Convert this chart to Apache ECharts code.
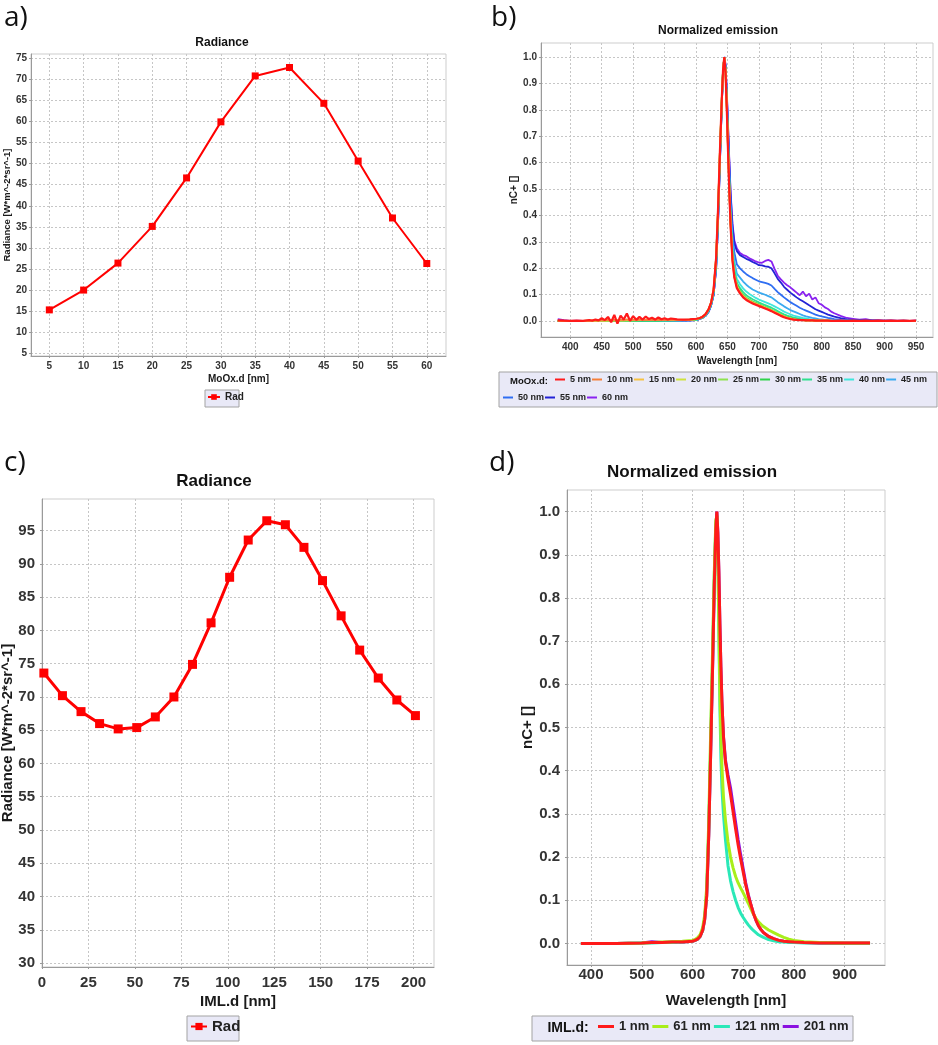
<!DOCTYPE html>
<html>
<head>
<meta charset="utf-8">
<script src="https://cdn.jsdelivr.net/npm/echarts@6.0.0/dist/echarts.min.js"></script>
<style>
  html, body { margin: 0; padding: 0; background: #ffffff; }
  #chart { width: 938px; height: 1045px; }
</style>
</head>
<body>
<div id="chart"></div>
<script>
// ---------- a) Radiance vs MoOx thickness ----------
const aThick = [5, 10, 15, 20, 25, 30, 35, 40, 45, 50, 55, 60];
const aRad = [15.3, 20.0, 26.4, 35.1, 46.6, 59.9, 70.8, 72.8, 64.3, 50.6, 37.1, 26.3];
const aXTicks = [5, 10, 15, 20, 25, 30, 35, 40, 45, 50, 55, 60];
const aYTicks = [5, 10, 15, 20, 25, 30, 35, 40, 45, 50, 55, 60, 65, 70, 75];

// ---------- c) Radiance vs IML thickness ----------
const cThick = [1, 11, 21, 31, 41, 51, 61, 71, 81, 91, 101, 111, 121, 131, 141, 151, 161, 171, 181, 191, 201];
const cRad = [73.6, 70.2, 67.8, 66.0, 65.2, 65.4, 67.0, 70.0, 74.9, 81.15, 88.0, 93.6, 96.5, 95.9, 92.5, 87.5, 82.2, 77.05, 72.85, 69.55, 67.2];
const cXTicks = [0, 25, 50, 75, 100, 125, 150, 175, 200];
const cYTicks = [30, 35, 40, 45, 50, 55, 60, 65, 70, 75, 80, 85, 90, 95];

// ---------- b) Normalized emission, MoOx.d series ----------
const wlB = [380, 390, 400, 410, 420, 430,
  435, 440, 445, 450, 455, 460, 465, 470, 475, 480, 485, 490, 495, 500, 505, 510, 515, 520, 525, 530, 535, 540, 545, 550, 555, 560,
  570, 580, 590, 600,
  605, 610, 615, 620, 624, 628, 632, 635, 638, 641, 643, 645, 647, 649, 651, 653, 655, 658, 661, 665,
  670, 675, 680, 685, 690, 695, 700, 705, 710, 715, 720, 725, 730, 735, 740, 745, 750, 755, 760, 765, 770, 775, 780, 785, 790, 795, 800, 805, 810, 815, 820,
  830, 840, 850, 860, 870, 880, 890, 900, 910, 920, 930, 940, 950];

const mo05 = [0.003, 0.002, 0.001, 0.002, 0.001, 0.004,
  0.002, 0.006, 0.003, 0.011, 0.004, 0.016, -0.004, 0.024, -0.009, 0.021, 0.006, 0.029, 0.001, 0.019, 0.005, 0.016, 0.006, 0.017, 0.008, 0.013, 0.006, 0.014, 0.007, 0.011, 0.006, 0.010,
  0.007, 0.006, 0.007, 0.009,
  0.011, 0.016, 0.026, 0.045, 0.07, 0.12, 0.24, 0.42, 0.64, 0.84, 0.95, 1.0, 0.94, 0.80, 0.64, 0.49, 0.36, 0.23, 0.165, 0.125,
  0.105, 0.090, 0.080, 0.073, 0.067, 0.062, 0.057, 0.053, 0.048, 0.043, 0.038, 0.032, 0.026, 0.020, 0.015, 0.011, 0.008, 0.006, 0.005, 0.004, 0.004, 0.003, 0.003, 0.003, 0.002, 0.002, 0.002, 0.002, 0.002, 0.001, 0.001,
  0.002, 0.001, 0.002, 0.001, 0.002, 0.001, 0.002, 0.001, 0.002, 0.001, 0.002, 0.001, 0.002];
const mo10 = [0.002, 0.001, 0.001, 0.001, 0.001, 0.002,
  0.002, 0.003, 0.002, 0.004, 0.003, 0.005, 0.002, 0.006, 0.003, 0.006, 0.004, 0.007, 0.003, 0.006, 0.004, 0.006, 0.004, 0.005, 0.004, 0.005, 0.004, 0.005, 0.004, 0.005, 0.004, 0.005,
  0.005, 0.005, 0.006, 0.008,
  0.011, 0.016, 0.026, 0.045, 0.07, 0.12, 0.24, 0.42, 0.64, 0.84, 0.95, 1.0, 0.94, 0.80, 0.64, 0.49, 0.36, 0.23, 0.167, 0.127,
  0.107, 0.092, 0.082, 0.075, 0.069, 0.064, 0.059, 0.054, 0.049, 0.044, 0.039, 0.033, 0.027, 0.021, 0.016, 0.012, 0.009, 0.007, 0.005, 0.004, 0.004, 0.003, 0.003, 0.003, 0.002, 0.002, 0.002, 0.002, 0.002, 0.001, 0.001,
  0.001, 0.001, 0.001, 0.001, 0.001, 0.001, 0.001, 0.001, 0.001, 0.001, 0.001, 0.001, 0.001];
const mo15 = [0.001, 0.001, 0.001, 0.001, 0.001, 0.002,
  0.002, 0.002, 0.003, 0.003, 0.003, 0.004, 0.003, 0.004, 0.003, 0.004, 0.003, 0.005, 0.004, 0.005, 0.004, 0.005, 0.004, 0.005, 0.004, 0.005, 0.004, 0.005, 0.004, 0.005, 0.004, 0.005,
  0.005, 0.005, 0.006, 0.008,
  0.011, 0.016, 0.026, 0.045, 0.07, 0.12, 0.24, 0.42, 0.64, 0.84, 0.95, 1.0, 0.94, 0.80, 0.64, 0.49, 0.37, 0.235, 0.17, 0.13,
  0.108, 0.093, 0.083, 0.076, 0.070, 0.065, 0.060, 0.055, 0.050, 0.045, 0.040, 0.034, 0.028, 0.022, 0.017, 0.013, 0.010, 0.007, 0.005, 0.004, 0.004, 0.003, 0.003, 0.003, 0.002, 0.002, 0.002, 0.002, 0.002, 0.001, 0.001,
  0.001, 0.001, 0.001, 0.001, 0.001, 0.001, 0.001, 0.001, 0.001, 0.001, 0.001, 0.001, 0.001];
const mo20 = [0.001, 0.001, 0.001, 0.001, 0.001, 0.001,
  0.002, 0.002, 0.002, 0.003, 0.002, 0.003, 0.003, 0.003, 0.003, 0.004, 0.003, 0.004, 0.003, 0.004, 0.004, 0.004, 0.004, 0.005, 0.004, 0.005, 0.004, 0.005, 0.004, 0.005, 0.004, 0.005,
  0.005, 0.005, 0.006, 0.008,
  0.011, 0.016, 0.026, 0.045, 0.07, 0.12, 0.24, 0.42, 0.64, 0.84, 0.95, 1.0, 0.94, 0.81, 0.65, 0.50, 0.37, 0.24, 0.172, 0.132,
  0.110, 0.095, 0.085, 0.077, 0.071, 0.066, 0.061, 0.056, 0.051, 0.046, 0.041, 0.035, 0.029, 0.023, 0.018, 0.013, 0.010, 0.008, 0.006, 0.005, 0.004, 0.003, 0.003, 0.003, 0.002, 0.002, 0.002, 0.002, 0.002, 0.001, 0.001,
  0.001, 0.001, 0.001, 0.001, 0.001, 0.001, 0.001, 0.001, 0.001, 0.001, 0.001, 0.001, 0.001];
const mo25 = [0.001, 0.001, 0.001, 0.001, 0.001, 0.001,
  0.001, 0.002, 0.002, 0.002, 0.002, 0.003, 0.002, 0.003, 0.003, 0.003, 0.003, 0.004, 0.003, 0.004, 0.003, 0.004, 0.004, 0.004, 0.004, 0.004, 0.004, 0.005, 0.004, 0.005, 0.004, 0.005,
  0.005, 0.005, 0.006, 0.007,
  0.010, 0.015, 0.025, 0.044, 0.07, 0.12, 0.24, 0.42, 0.64, 0.84, 0.95, 1.0, 0.95, 0.81, 0.65, 0.50, 0.375, 0.245, 0.175, 0.135,
  0.112, 0.097, 0.087, 0.079, 0.072, 0.067, 0.062, 0.057, 0.052, 0.047, 0.042, 0.036, 0.030, 0.024, 0.018, 0.014, 0.011, 0.008, 0.006, 0.005, 0.004, 0.003, 0.003, 0.003, 0.002, 0.002, 0.002, 0.002, 0.002, 0.001, 0.001,
  0.001, 0.001, 0.001, 0.001, 0.001, 0.001, 0.001, 0.001, 0.001, 0.001, 0.001, 0.001, 0.001];
const mo30 = [0.001, 0.001, 0.001, 0.001, 0.001, 0.001,
  0.001, 0.001, 0.002, 0.002, 0.002, 0.002, 0.002, 0.002, 0.002, 0.003, 0.002, 0.003, 0.002, 0.003, 0.002, 0.003, 0.002, 0.002, 0.003, 0.002, 0.003, 0.002, 0.003, 0.003, 0.003, 0.003,
  0.004, 0.004, 0.005, 0.007,
  0.010, 0.015, 0.024, 0.043, 0.068, 0.115, 0.23, 0.41, 0.63, 0.84, 0.95, 1.0, 0.95, 0.81, 0.66, 0.51, 0.38, 0.25, 0.18, 0.138,
  0.115, 0.099, 0.089, 0.081, 0.074, 0.069, 0.064, 0.059, 0.054, 0.049, 0.043, 0.037, 0.031, 0.025, 0.019, 0.015, 0.011, 0.008, 0.006, 0.005, 0.004, 0.003, 0.003, 0.003, 0.002, 0.002, 0.002, 0.002, 0.002, 0.001, 0.001,
  0.001, 0.001, 0.001, 0.001, 0.001, 0.001, 0.001, 0.001, 0.001, 0.001, 0.001, 0.001, 0.001];
const mo35 = [0.001, 0.001, 0.001, 0.001, 0.001, 0.001,
  0.001, 0.001, 0.001, 0.002, 0.001, 0.002, 0.001, 0.002, 0.001, 0.002, 0.002, 0.002, 0.002, 0.002, 0.002, 0.002, 0.002, 0.002, 0.002, 0.003, 0.002, 0.003, 0.002, 0.003, 0.003, 0.003,
  0.003, 0.004, 0.004, 0.006,
  0.009, 0.013, 0.022, 0.040, 0.065, 0.11, 0.22, 0.40, 0.62, 0.83, 0.95, 1.0, 0.95, 0.82, 0.67, 0.52, 0.39, 0.26, 0.19, 0.145,
  0.125, 0.110, 0.098, 0.090, 0.083, 0.077, 0.071, 0.066, 0.061, 0.056, 0.051, 0.045, 0.038, 0.032, 0.026, 0.021, 0.017, 0.013, 0.011, 0.009, 0.007, 0.006, 0.005, 0.004, 0.003, 0.003, 0.002, 0.002, 0.002, 0.001, 0.001,
  0.001, 0.001, 0.001, 0.001, 0.001, 0.001, 0.001, 0.001, 0.001, 0.001, 0.001, 0.001, 0.001];
const mo40 = [0.001, 0.001, 0.001, 0.001, 0.001, 0.001,
  0.001, 0.001, 0.001, 0.001, 0.001, 0.001, 0.001, 0.001, 0.001, 0.002, 0.001, 0.002, 0.001, 0.002, 0.002, 0.002, 0.002, 0.002, 0.002, 0.002, 0.002, 0.002, 0.002, 0.002, 0.002, 0.003,
  0.003, 0.003, 0.004, 0.005,
  0.009, 0.013, 0.022, 0.040, 0.065, 0.11, 0.22, 0.40, 0.62, 0.83, 0.95, 1.0, 0.95, 0.83, 0.68, 0.53, 0.40, 0.275, 0.205, 0.16,
  0.140, 0.124, 0.112, 0.103, 0.095, 0.088, 0.082, 0.077, 0.072, 0.067, 0.062, 0.056, 0.050, 0.043, 0.036, 0.031, 0.026, 0.021, 0.018, 0.015, 0.012, 0.010, 0.008, 0.006, 0.005, 0.004, 0.003, 0.003, 0.002, 0.002, 0.001,
  0.001, 0.001, 0.001, 0.001, 0.001, 0.001, 0.001, 0.001, 0.001, 0.001, 0.001, 0.001, 0.001];
const mo45 = [0.001, 0.001, 0.001, 0.001, 0.001, 0.001,
  0.001, 0.001, 0.001, 0.001, 0.001, 0.001, 0.001, 0.001, 0.001, 0.001, 0.001, 0.001, 0.001, 0.001, 0.001, 0.001, 0.001, 0.002, 0.001, 0.002, 0.001, 0.002, 0.002, 0.002, 0.002, 0.002,
  0.002, 0.003, 0.003, 0.005,
  0.009, 0.013, 0.021, 0.039, 0.063, 0.105, 0.21, 0.39, 0.61, 0.83, 0.95, 1.0, 0.96, 0.84, 0.69, 0.55, 0.42, 0.30, 0.225, 0.18,
  0.165, 0.150, 0.138, 0.128, 0.120, 0.114, 0.108, 0.104, 0.100, 0.095, 0.090, 0.081, 0.072, 0.064, 0.056, 0.049, 0.042, 0.037, 0.032, 0.027, 0.022, 0.018, 0.015, 0.012, 0.010, 0.008, 0.007, 0.005, 0.004, 0.003, 0.003,
  0.002, 0.002, 0.001, 0.001, 0.001, 0.001, 0.001, 0.001, 0.001, 0.001, 0.001, 0.001, 0.001];
const mo50 = [0.001, 0.001, 0.001, 0.001, 0.001, 0.001,
  0.001, 0.001, 0.001, 0.001, 0.001, 0.001, 0.001, 0.001, 0.001, 0.001, 0.001, 0.001, 0.001, 0.001, 0.001, 0.001, 0.001, 0.001, 0.001, 0.001, 0.001, 0.001, 0.001, 0.001, 0.001, 0.002,
  0.002, 0.002, 0.003, 0.004,
  0.008, 0.012, 0.020, 0.036, 0.060, 0.10, 0.20, 0.37, 0.60, 0.82, 0.94, 1.0, 0.96, 0.85, 0.71, 0.57, 0.45, 0.33, 0.26, 0.215,
  0.200, 0.188, 0.178, 0.170, 0.163, 0.157, 0.151, 0.148, 0.145, 0.141, 0.135, 0.122, 0.110, 0.100, 0.090, 0.081, 0.072, 0.065, 0.058, 0.051, 0.045, 0.040, 0.035, 0.030, 0.025, 0.021, 0.018, 0.015, 0.012, 0.010, 0.008,
  0.005, 0.004, 0.003, 0.002, 0.002, 0.002, 0.001, 0.001, 0.001, 0.001, 0.001, 0.001, 0.001];
const mo55 = [0.001, 0.001, 0.001, 0.001, 0.001, 0.001,
  0.001, 0.001, 0.001, 0.001, 0.001, 0.001, 0.001, 0.001, 0.001, 0.001, 0.001, 0.001, 0.001, 0.001, 0.001, 0.001, 0.001, 0.001, 0.001, 0.001, 0.001, 0.001, 0.001, 0.001, 0.001, 0.002,
  0.002, 0.002, 0.003, 0.004,
  0.008, 0.012, 0.020, 0.036, 0.060, 0.10, 0.20, 0.37, 0.60, 0.82, 0.94, 1.0, 0.97, 0.86, 0.73, 0.60, 0.48, 0.36, 0.295, 0.265,
  0.250, 0.243, 0.236, 0.231, 0.224, 0.219, 0.212, 0.211, 0.207, 0.206, 0.200, 0.181, 0.160, 0.146, 0.130, 0.119, 0.108, 0.099, 0.090, 0.082, 0.075, 0.068, 0.060, 0.053, 0.045, 0.040, 0.035, 0.030, 0.025, 0.021, 0.017,
  0.011, 0.007, 0.005, 0.004, 0.003, 0.003, 0.002, 0.002, 0.002, 0.001, 0.002, 0.001, 0.001];
const mo60 = [0.008, 0.004, 0.001, 0.002, 0.001, 0.001,
  0.001, 0.001, 0.001, 0.001, 0.001, 0.001, 0.001, 0.001, 0.001, 0.001, 0.001, 0.001, 0.001, 0.001, 0.001, 0.001, 0.001, 0.001, 0.001, 0.001, 0.001, 0.001, 0.001, 0.001, 0.001, 0.002,
  0.002, 0.002, 0.003, 0.004,
  0.008, 0.012, 0.020, 0.036, 0.060, 0.10, 0.20, 0.37, 0.60, 0.82, 0.94, 1.0, 0.97, 0.87, 0.74, 0.61, 0.49, 0.37, 0.305, 0.275,
  0.258, 0.250, 0.246, 0.238, 0.232, 0.226, 0.222, 0.221, 0.228, 0.232, 0.226, 0.198, 0.172, 0.158, 0.146, 0.136, 0.128, 0.118, 0.108, 0.098, 0.112, 0.094, 0.104, 0.082, 0.090, 0.068, 0.062, 0.052, 0.046, 0.036, 0.030,
  0.020, 0.012, 0.009, 0.006, 0.008, 0.003, 0.004, 0.002, 0.003, 0.002, 0.002, 0.001, 0.003];

const bNames = ['5 nm', '10 nm', '15 nm', '20 nm', '25 nm', '30 nm', '35 nm', '40 nm', '45 nm', '50 nm', '55 nm', '60 nm'];
const bValues = [mo05, mo10, mo15, mo20, mo25, mo30, mo35, mo40, mo45, mo50, mo55, mo60];
const bXTicks = [400, 450, 500, 550, 600, 650, 700, 750, 800, 850, 900, 950];
const bYTicks = [0, 0.1, 0.2, 0.3, 0.4, 0.5, 0.6, 0.7, 0.8, 0.9, 1.0];

// ---------- d) Normalized emission, IML.d series ----------
const wlD = [380, 400, 450, 500, 520, 540, 560, 580, 600,
  605, 610, 615, 620, 624, 628, 632, 636, 640, 643, 646, 648, 650, 652, 654, 656, 658, 661, 665,
  670, 675, 680, 685, 690, 695, 700, 705, 710, 715, 720, 725, 730, 735, 740,
  750, 760, 770, 780, 790, 800, 820, 850, 900, 950];
const iml001 = [0, 0, 0, 0.001, 0.002, 0.002, 0.003, 0.003, 0.005,
  0.007, 0.010, 0.016, 0.030, 0.055, 0.11, 0.25, 0.45, 0.66, 0.83, 0.96, 1.0, 0.95, 0.86, 0.74, 0.64, 0.56, 0.48, 0.42,
  0.380, 0.345, 0.305, 0.265, 0.228, 0.195, 0.165, 0.135, 0.110, 0.090, 0.070, 0.054, 0.041, 0.032, 0.025,
  0.016, 0.011, 0.007, 0.005, 0.004, 0.003, 0.002, 0.001, 0.001, 0.001];
const iml061 = [0, 0, 0, 0.001, 0.002, 0.003, 0.004, 0.005, 0.007,
  0.009, 0.013, 0.020, 0.036, 0.065, 0.13, 0.28, 0.50, 0.70, 0.86, 0.98, 0.99, 0.90, 0.74, 0.58, 0.48, 0.41, 0.34, 0.285,
  0.235, 0.200, 0.175, 0.155, 0.140, 0.128, 0.117, 0.105, 0.093, 0.080, 0.068, 0.058, 0.050, 0.044, 0.039,
  0.031, 0.025, 0.019, 0.014, 0.010, 0.007, 0.004, 0.002, 0.001, 0.001];
const iml121 = [0, 0, 0, 0.001, 0.001, 0.002, 0.002, 0.003, 0.005,
  0.007, 0.010, 0.016, 0.030, 0.058, 0.12, 0.26, 0.47, 0.68, 0.85, 0.97, 0.99, 0.90, 0.72, 0.55, 0.43, 0.36, 0.30, 0.24,
  0.180, 0.145, 0.120, 0.100, 0.083, 0.070, 0.060, 0.051, 0.043, 0.036, 0.030, 0.025, 0.020, 0.017, 0.014,
  0.009, 0.006, 0.004, 0.003, 0.002, 0.002, 0.001, 0.001, 0, 0];
const iml201 = [0, 0, 0, 0.001, 0.004, 0.002, 0.003, 0.003, 0.005,
  0.007, 0.010, 0.016, 0.030, 0.055, 0.11, 0.25, 0.45, 0.66, 0.83, 0.96, 1.0, 0.95, 0.86, 0.74, 0.64, 0.56, 0.48, 0.425,
  0.390, 0.360, 0.320, 0.280, 0.240, 0.205, 0.172, 0.140, 0.113, 0.090, 0.070, 0.054, 0.041, 0.032, 0.025,
  0.016, 0.011, 0.007, 0.005, 0.004, 0.003, 0.002, 0.001, 0.001, 0.001];

const dNames = ['1 nm', '61 nm', '121 nm', '201 nm'];
const dValues = [iml001, iml061, iml121, iml201];
const dXTicks = [400, 500, 600, 700, 800, 900];
const dYTicks = [0, 0.1, 0.2, 0.3, 0.4, 0.5, 0.6, 0.7, 0.8, 0.9, 1.0];

// ---------- styling ----------
const FONT = '"Liberation Sans", Arial, Helvetica, sans-serif';
const bColors = ['#ff1a1a', '#f5803a', '#f7c242', '#cfe23e', '#8ee34f', '#2fd34a', '#2fe08f', '#3fe6dc', '#3aaaf0', '#2f6ef2', '#2323d6', '#8a22f0'];
const dColors = ['#ff1a1a', '#a8ee1a', '#2ae8b8', '#8a10e0'];

function pairs(xs, ys) { return xs.map((x, i) => [x, ys[i]]); }

function axisOf(grid, min, max, ticks, o) {
  return {
    type: 'value', gridIndex: grid, min: min, max: max,
    name: o.name, nameLocation: 'middle', nameGap: o.nameGap, nameMoveOverlap: false,
    nameTextStyle: { fontFamily: FONT, fontWeight: 'bold', fontSize: o.nameSize, color: '#1a1a1a' },
    axisLine: { show: true, onZero: false, lineStyle: { color: '#9a9a9a', width: 1 } },
    axisTick: { show: true, customValues: ticks, length: 2, lineStyle: { color: '#9a9a9a' } },
    axisLabel: {
      customValues: ticks, fontFamily: FONT, fontWeight: 'bold', fontSize: o.labelSize,
      color: '#333333', margin: o.margin, formatter: o.fmt
    },
    splitLine: { show: true, lineStyle: { color: '#c6c6c6', width: 1, type: [2, 2] } }
  };
}
const fmt1 = v => v.toFixed(1);
const fmt0 = v => String(Math.round(v));

function gridOf(left, top, width, height) {
  return { left, top, width, height, show: true, backgroundColor: '#ffffff',
           borderColor: '#cdcdcd', borderWidth: 1, containLabel: false, outerBoundsMode: 'none' };
}

function textEl(x, y, text, font, align) {
  return { type: 'text', x: x, y: y, z: 10, silent: true,
           style: { text: text, font: font, fill: '#111111', textAlign: align || 'center', textVerticalAlign: 'middle' } };
}
function boxEl(x, y, w, h) {
  return { type: 'rect', z: 0, silent: true, shape: { x: x, y: y, width: w, height: h },
           style: { fill: '#e9e9f7', stroke: '#a3a3a3', lineWidth: 1 } };
}

const series = [];
// a
series.push({ type: 'line', name: 'Rad', xAxisIndex: 0, yAxisIndex: 0, data: pairs(aThick, aRad),
  symbol: 'rect', symbolSize: 7, color: '#ff0000', lineStyle: { width: 2, color: '#ff0000' },
  itemStyle: { color: '#ff0000' }, z: 3 });
// b — drawn in reverse so the first series sits on top
for (let i = bNames.length - 1; i >= 0; i--) {
  series.push({ type: 'line', name: bNames[i], xAxisIndex: 1, yAxisIndex: 1, data: pairs(wlB, bValues[i]),
    symbol: 'none', showSymbol: false, color: bColors[i],
    lineStyle: { width: i === 0 ? 2.2 : 1.8, color: bColors[i] } });
}
// c
series.push({ type: 'line', name: 'Rad IML', xAxisIndex: 2, yAxisIndex: 2, data: pairs(cThick, cRad),
  symbol: 'rect', symbolSize: 9, color: '#ff0000', lineStyle: { width: 3, color: '#ff0000' },
  itemStyle: { color: '#ff0000' }, z: 3 });
// d
for (let i = dNames.length - 1; i >= 0; i--) {
  series.push({ type: 'line', name: dNames[i], xAxisIndex: 3, yAxisIndex: 3, data: pairs(wlD, dValues[i]),
    symbol: 'none', showSymbol: false, color: dColors[i], lineStyle: { width: 3, color: dColors[i] } });
}

const legendText = size => ({ fontFamily: FONT, fontWeight: 'bold', fontSize: size, color: '#222222' });

const option = {
  animation: false,
  backgroundColor: '#ffffff',
  grid: [
    gridOf(31, 54, 415, 302),
    gridOf(541, 43, 392, 294),
    gridOf(42, 499, 392, 468),
    gridOf(567, 490, 318, 475)
  ],
  xAxis: [
    axisOf(0, 2.33, 62.8, aXTicks, { name: 'MoOx.d [nm]', nameGap: 18, nameSize: 10, labelSize: 10, margin: 5, fmt: fmt0 }),
    axisOf(1, 353.4, 977, bXTicks, { name: 'Wavelength [nm]', nameGap: 19, nameSize: 10, labelSize: 10, margin: 5, fmt: fmt0 }),
    axisOf(2, 0, 211, cXTicks, { name: 'IML.d [nm]', nameGap: 27, nameSize: 15, labelSize: 15, margin: 8, fmt: fmt0 }),
    axisOf(3, 352.6, 979.5, dXTicks, { name: 'Wavelength [nm]', nameGap: 28, nameSize: 15, labelSize: 15, margin: 2, fmt: fmt0 })
  ],
  yAxis: [
    axisOf(0, 4.36, 76.0, aYTicks, { name: 'Radiance [W*m^-2*sr^-1]', nameGap: 19, nameSize: 9.5, labelSize: 10, margin: 4, fmt: fmt0 }),
    axisOf(1, -0.06, 1.053, bYTicks, { name: 'nC+ []', nameGap: 22, nameSize: 10, labelSize: 10, margin: 4, fmt: fmt1 }),
    axisOf(2, 29.4, 99.77, cYTicks, { name: 'Radiance [W*m^-2*sr^-1]', nameGap: 27, nameSize: 15, labelSize: 15, margin: 7, fmt: fmt0 }),
    axisOf(3, -0.05, 1.05, dYTicks, { name: 'nC+ []', nameGap: 32, nameSize: 15, labelSize: 15, margin: 7, fmt: fmt1 })
  ],
  legend: [
    { data: ['Rad'], left: 207, top: 392, orient: 'horizontal', padding: 0, itemGap: 4,
      itemWidth: 12, itemHeight: 7, selectedMode: false, textStyle: legendText(10) },
    { data: bNames.slice(0, 9), left: 555, top: 375, width: 400, orient: 'horizontal', padding: 0, itemGap: 1,
      icon: 'rect', itemWidth: 10, itemHeight: 2, selectedMode: false, textStyle: legendText(9) },
    { data: bNames.slice(9), left: 503, top: 393, orient: 'horizontal', padding: 0, itemGap: 1,
      icon: 'rect', itemWidth: 10, itemHeight: 2, selectedMode: false, textStyle: legendText(9) },
    { data: ['Rad IML'], left: 190, top: 1019, orient: 'horizontal', padding: 0, itemGap: 4,
      itemWidth: 16, itemHeight: 9, selectedMode: false, textStyle: legendText(15), formatter: () => 'Rad' },
    { data: dNames, left: 598, top: 1020, orient: 'horizontal', padding: 0, itemGap: 3,
      icon: 'rect', itemWidth: 16, itemHeight: 3, selectedMode: false, textStyle: legendText(13) }
  ],
  graphic: [
    boxEl(205, 390, 34, 17),
    boxEl(499, 372, 438, 35),
    boxEl(187, 1016, 52, 25),
    boxEl(532, 1016, 321, 25),
    textEl(222, 43, 'Radiance', 'bold 12px ' + FONT),
    textEl(718, 31, 'Normalized emission', 'bold 12px ' + FONT),
    textEl(214, 481, 'Radiance', 'bold 17px ' + FONT),
    textEl(692, 472, 'Normalized emission', 'bold 17px ' + FONT),
    textEl(529, 381, 'MoOx.d:', 'bold 9.5px ' + FONT),
    textEl(568, 1028, 'IML.d:', 'bold 14px ' + FONT),
    textEl(4, 18, 'a)', '28px "Open Sans", sans-serif', 'left'),
    textEl(491, 18, 'b)', '28px "Open Sans", sans-serif', 'left'),
    textEl(4, 463, 'c)', '28px "Open Sans", sans-serif', 'left'),
    textEl(489, 463, 'd)', '28px "Open Sans", sans-serif', 'left')
  ],
  series: series
};

const chart = echarts.init(document.getElementById('chart'), null, { renderer: 'canvas' });
chart.setOption(option);
</script>
</body>
</html>
